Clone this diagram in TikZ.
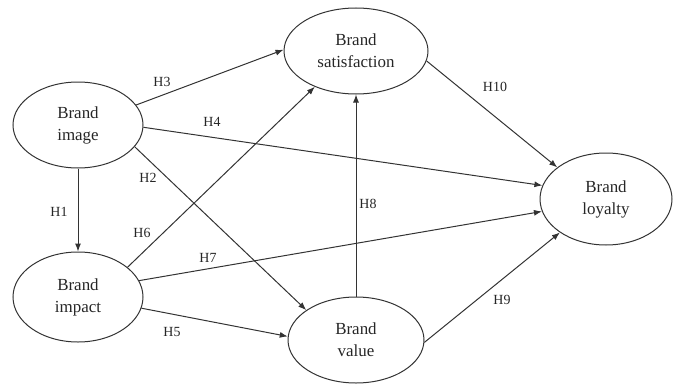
\documentclass[tikz,border=0pt]{standalone}
\usepackage{fontspec}
\setmainfont{Liberation Serif}
\usetikzlibrary{shapes.geometric, arrows.meta, positioning}

\begin{document}
\begin{tikzpicture}[
        x=1bp, y=1bp,
        every node/.style={font=\fontsize{14}{16}\selectfont},
        construct/.style={ellipse, draw=black!80, line width=1bp, inner sep=0pt, align=center, font=\fontsize{17}{22}\selectfont, text=black!85},
        arrow/.style={line width=1bp, ->, >={Latex[length=8bp,width=6bp]}, color=black!80},
        hyp/.style={text=black!85, inner sep=0pt}
    ]
    \useasboundingbox (0,0) rectangle (677,383);

        \node[construct, minimum width=130bp, minimum height=86bp] (image) at (78,258) {Brand\\image};
        \node[construct, minimum width=130bp, minimum height=90bp] (impact) at (78,86) {Brand\\impact};
        \node[construct, minimum width=144bp, minimum height=86bp] (satisf) at (356,332) {Brand\\satisfaction};
        \node[construct, minimum width=136bp, minimum height=86bp] (value) at (356,43) {Brand\\value};
        \node[construct, minimum width=132bp, minimum height=92bp] (loyalty) at (606,184) {Brand\\loyalty};

        \draw[arrow] (image) -- (impact);
        \draw[arrow] (image.19) -- (satisf.179);
        \draw[arrow] (image.-2) -- (loyalty.168);
        \draw[arrow] (image.-21) -- (value.149);
        \draw[arrow] (impact.31) -- (satisf.-139);
        \draw[arrow] (impact.15) -- (loyalty.191);
        \draw[arrow] (impact.-10) -- (value.177);
        \draw[arrow] (value) -- (satisf);
        \draw[arrow] (value.-2) -- (loyalty.-144);
        \draw[arrow] (satisf.-8) -- (loyalty.147);

        \node[hyp] (h1) at (59,171) {H1};
        \node[hyp] (h2) at (148,205) {H2};
        \node[hyp] (h3) at (162,301) {H3};
        \node[hyp] (h4) at (212,261) {H4};
        \node[hyp] (h5) at (172,51) {H5};
        \node[hyp] (h6) at (142,150) {H6};
        \node[hyp] (h7) at (208,125) {H7};
        \node[hyp] (h8) at (368,179) {H8};
        \node[hyp] (h9) at (502,83) {H9};
        \node[hyp] (h10) at (495,296) {H10};

    \end{tikzpicture}
\end{document}
